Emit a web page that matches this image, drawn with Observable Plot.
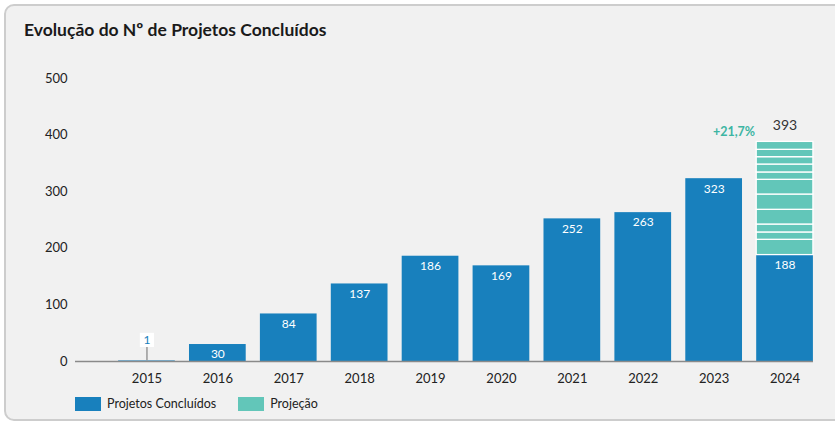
<!DOCTYPE html>
<html>
<head>
<meta charset="utf-8">
<script src="https://cdn.jsdelivr.net/npm/d3@7"></script>
<script src="https://cdn.jsdelivr.net/npm/@observablehq/plot@0.6"></script>
<style>
  html, body { margin: 0; padding: 0; background: #ffffff; width: 835px; height: 426px; overflow: hidden; }
  body { position: relative; font-family: "Source Sans Pro", Lato, "Noto Sans", sans-serif; }
  #card { position: absolute; left: 4px; top: 4px; width: 880px; height: 417px; border: 2px solid #cdcdcd; border-radius: 10px; background: #f1f1f1; box-sizing: border-box; }
  #title { position: absolute; left: 24px; top: 19px; font-size: 17.5px; font-weight: 700; color: #1a1a1a; }
  #chart { position: absolute; left: 0; top: 0; }
  #legend { position: absolute; left: 75px; top: 396px; display: flex; align-items: center; font-size: 12.5px; color: #222; }
  .item { display: flex; align-items: center; margin-right: 22px; }
  .sw { width: 26px; height: 14px; margin-right: 6px; }
</style>
</head>
<body>
<div id="card"></div>
<div id="title">Evolução do Nº de Projetos Concluídos</div>
<div id="chart"></div>
<div id="legend"></div>
<script>
const years = ["2015","2016","2017","2018","2019","2020","2021","2022","2023","2024"];
const concluded = [1, 30, 84, 137, 186, 169, 252, 263, 323, 188];
const projectionYear = "2024";
const projectionSegments = [27, 13, 14, 26, 27, 26, 13, 14, 13, 13, 14];
const projectionTotal = 393;
const growthLabel = "+21,7%";
const yTicks = [0, 100, 200, 300, 400, 500];
const seriesNames = ["Projetos Concluídos", "Projeção"];
const colors = ["#1880bd", "#62c6b9"];

// table for the completed projects
const blueRows = years.map((y, i) => ({year: y, value: concluded[i], type: seriesNames[0]}));
// projection segments stacked on top of the 2024 completed value
const base2024 = concluded[years.indexOf(projectionYear)];
let acc = base2024;
const projRows = projectionSegments.map(v => {
  const r = {year: projectionYear, y1: acc, y2: acc + v, type: seriesNames[1]};
  acc += v;
  return r;
});

const mainLabels = blueRows.filter(d => d.value > 5);
const smallLabels = blueRows.filter(d => d.value <= 5);
const topLabel = [{year: projectionYear, value: acc, text: String(projectionTotal)}];

const font = "'Source Sans Pro', Lato, 'Noto Sans', sans-serif";

const chart = Plot.plot({
  width: 835,
  height: 390,
  marginTop: 78,
  marginBottom: 29,
  marginLeft: 75,
  marginRight: 22,
  style: {background: "transparent", fontFamily: font, fontSize: "13px", color: "#222"},
  x: {type: "band", domain: years, range: [111, 820], paddingInner: 0.2, paddingOuter: 0.1, round: false, label: null},
  y: {domain: [0, 500], label: null},
  color: {domain: seriesNames, range: colors},
  marks: [
    Plot.axisY({ticks: yTicks, tickSize: 0, tickPadding: 8, label: null, fontSize: 13}),
    Plot.axisX({tickSize: 0, tickPadding: 12, label: null, fontSize: 13}),
    Plot.barY(blueRows, {x: "year", y: "value", fill: "type"}),
    Plot.barY(projRows, {x: "year", y1: "y1", y2: "y2", fill: "type", stroke: "#ffffff", strokeWidth: 1.3}),
    Plot.ruleY([0], {stroke: "#8a8a8a", strokeWidth: 1.5}),
    Plot.ruleX(smallLabels, {x: "year", y1: 0, y2: "value", insetTop: -14, stroke: "#999", strokeWidth: 1.5}),
    Plot.dot(smallLabels, {x: "year", y: "value", dy: -21, r: 8, fill: "#ffffff", symbol: "square"}),
    Plot.text(smallLabels, {x: "year", y: "value", dy: -21, text: d => String(d.value), fill: "#1880bd", fontSize: 12}),
    Plot.text(mainLabels, {x: "year", y: "value", dy: 10, text: d => String(d.value), fill: "#ffffff", fontSize: 12, fontWeight: 400}),
    Plot.text(topLabel, {x: "year", y: "value", dy: -16, text: "text", fill: "#333", fontSize: 14}),
    Plot.text(topLabel, {x: "year", y: "value", dy: -10, dx: -30, textAnchor: "end", text: () => growthLabel, fill: "#3db5a3", fontSize: 12.5, fontWeight: "bold"})
  ]
});
document.getElementById("chart").appendChild(chart);

const legend = document.getElementById("legend");
seriesNames.forEach((n, i) => {
  const it = document.createElement("div");
  it.className = "item";
  it.innerHTML = `<div class="sw" style="background:${colors[i]}"></div><span>${n}</span>`;
  legend.appendChild(it);
});
</script>
</body>
</html>
